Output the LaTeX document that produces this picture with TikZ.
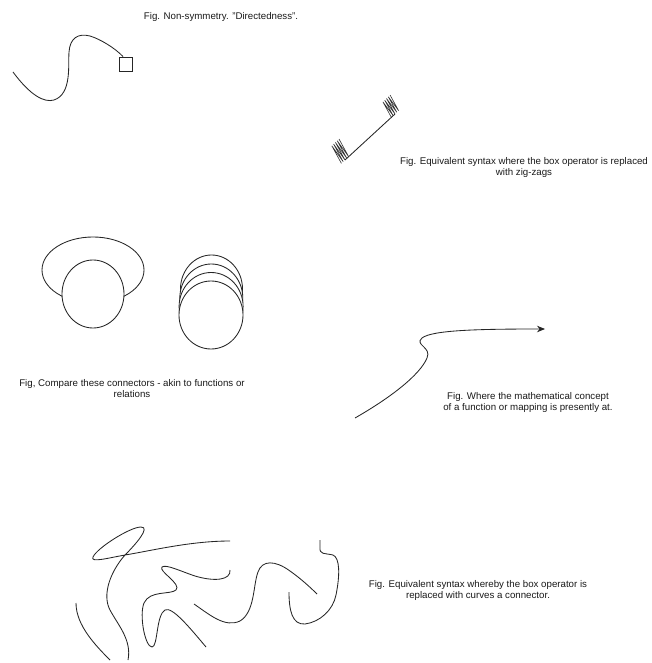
\documentclass[tikz,border=0pt]{standalone}
\usepackage{fontspec}
\setmainfont{Liberation Sans}
\usetikzlibrary{arrows.meta,calc}
\begin{document}
\begin{tikzpicture}[x=1pt,y=-1pt,
  caption/.style={font=\fontsize{9.7}{11}\selectfont, align=center, inner sep=0pt, text=black!90},
  stroke/.style={draw=black!85, line width=0.85pt},
  zig/.style={draw=black!80, line width=0.6pt},
  boxop/.style={draw=black!85, line width=0.85pt, minimum width=13pt, minimum height=14pt, inner sep=0pt}]
\useasboundingbox (0,0) rectangle (652,663);

% ---------- Fig 1 ----------
\node[caption] (t1) at (221,17) {Fig. Non-symmetry. "Directedness".};
\node[boxop] (box) at (125.5,64) {};
\coordinate (s1) at (13,72);
\draw[stroke] (s1) .. controls (30,95) and (44,103) .. (54,100)
  .. controls (72,94) and (68,65) .. (69,52)
  .. controls (70,38) and (78,33) .. (90,36)
  .. controls (100,39) and (115,48) .. ($(box.north)+(-2.5,0)$);

% ---------- Fig 2 ----------
\node[caption] (t2) at (524,167.5) {Fig. Equivalent syntax where the box operator is replaced\\with zig-zags};
\coordinate (z1) at (345,160);
\coordinate (z2) at (395,114);
\draw[zig] (341.4,163.4) -- (331.8,145.8) -- (343.2,161.7) -- (333.6,144.1) -- (345,160) -- (335.4,142.4) -- (346.8,158.3) -- (337.2,140.7) -- (348.6,156.6) -- (339,139);
\draw[zig] (391.4,117.4) -- (382.9,101.9) -- (393.2,115.7) -- (384.7,100.2) -- (395,114) -- (386.5,98.5) -- (396.8,112.3) -- (388.3,96.8) -- (398.6,110.6) -- (390.1,95.1);
\draw[stroke] (z1) -- (z2);

% ---------- Fig 3 ----------
\node[caption] (t3) at (132,389) {Fig, Compare these connectors - akin to functions or\\relations};
\draw[stroke] (93,270) ellipse [x radius=51, y radius=33];
\draw[stroke, fill=white] (93,294) ellipse [x radius=31, y radius=34];
\draw[stroke, fill=white] (211.5,289) ellipse [x radius=31, y radius=34];
\draw[stroke, fill=white] (211.3,298) ellipse [x radius=31.5, y radius=34];
\draw[stroke, fill=white] (211.1,306.5) ellipse [x radius=32, y radius=34];
\draw[stroke, fill=white] (211,315) ellipse [x radius=32, y radius=34];

% ---------- Fig 4 ----------
\node[caption] (t4) at (528,402) {Fig. Where the mathematical concept\\of a function or mapping is presently at.};
\coordinate (a1) at (355,418);
\coordinate (a2) at (545,329);
\draw[stroke, -{Stealth[length=8pt,width=6.5pt]}] (a1)
  .. controls (390,398) and (420,375) .. (427,358)
  .. controls (432,347) and (414,345) .. (422,338)
  .. controls (432,330) and (480,329) .. (a2);

% ---------- Fig 5 ----------
\node[caption] (t5) at (478,590) {Fig. Equivalent syntax whereby the box operator is\\replaced with curves a connector.};
% long loop curve
\draw[stroke] (230,541) .. controls (190,541) and (150,551) .. (125,555)
  .. controls (108,558) and (90,563) .. (93,557)
  .. controls (97,548) and (130,527) .. (141,527)
  .. controls (151,527) and (135,545) .. (125,555)
  .. controls (110,572) and (102,595) .. (110,610)
  .. controls (118,625) and (132,640) .. (128,660);
% left arc
\draw[stroke] (76,603) .. controls (76,625) and (95,645) .. (110,660);
% middle scribble
\draw[stroke] (230,570) .. controls (231,580) and (215,582) .. (195,576)
  .. controls (180,571) and (166,564) .. (162,567)
  .. controls (158,571) and (182,584) .. (176,590)
  .. controls (170,595) and (150,590) .. (144,603)
  .. controls (139,615) and (145,647) .. (152,647)
  .. controls (158,647) and (156,615) .. (165,610)
  .. controls (172,606) and (190,628) .. (206,647);
% S-curve
\draw[stroke] (194,604) .. controls (210,615) and (225,628) .. (240,621)
  .. controls (255,612) and (253,585) .. (258,572)
  .. controls (262,560) and (275,560) .. (290,571)
  .. controls (300,578) and (310,587) .. (317,594);
% hook curve
\draw[stroke] (289,592) .. controls (289,610) and (292,625) .. (305,624)
  .. controls (320,622) and (333,610) .. (336,595)
  .. controls (340,575) and (340,558) .. (333,555)
  .. controls (325,553) and (319,555) .. (320,547)
  .. controls (320,544) and (320,542) .. (320,540);
\end{tikzpicture}
\end{document}
